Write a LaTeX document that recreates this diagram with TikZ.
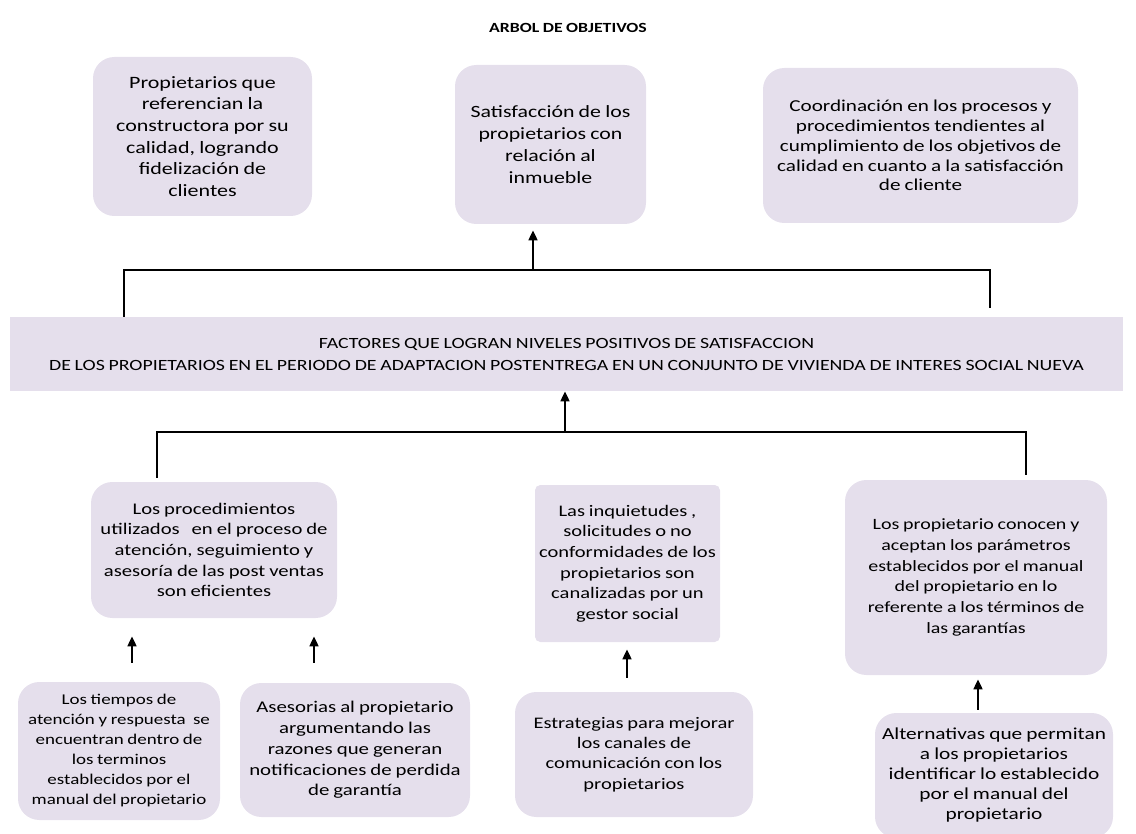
\documentclass[tikz,border=0pt]{standalone}
\usepackage{fontspec}
\setmainfont{Carlito}[FakeStretch=1.27, WordSpace=0.85]
\usetikzlibrary{arrows.meta}
\definecolor{lila}{HTML}{E5DFEC}
\tikzset{
  caja/.style={fill=lila, rounded corners=16pt, align=center, inner sep=0pt},
  linea/.style={line width=1.5pt},
  flecha/.style={line width=1.8pt, -{Triangle[length=7.5pt,width=6.5pt]}},
}
\begin{document}
\begin{tikzpicture}[x=0.75pt, y=-0.75pt]
    \useasboundingbox (0,0) rectangle (1136,834);
    \node[font=\bfseries\fontsize{10.5}{12}\selectfont] (titulo) at (568,28) {ARBOL DE OBJETIVOS};
    % fines
    \node[caja, minimum width=164.25pt, minimum height=119.25pt, font=\fontsize{13}{16.3}\selectfont] (fin1) at (202.5,136.5)
        {Propietarios que\\referencian la\\constructora por su\\calidad, logrando\\fidelización de\\clientes};
    \node[caja, minimum width=143.25pt, minimum height=119.25pt, font=\fontsize{12.9}{16.7}\selectfont] (fin2) at (550.5,144.5)
        {Satisfacción de los\\propietarios con\\relación al\\inmueble};
    \node[caja, minimum width=236.25pt, minimum height=116.25pt, font=\fontsize{12.5}{14.85}\selectfont] (fin3) at (920.5,145.5)
        {Coordinación en los procesos y\\procedimientos tendientes al\\cumplimiento de los objetivos de\\calidad en cuanto a la satisfacción\\de cliente};
    % problema central
    \node[caja, rounded corners=0pt, minimum width=834.75pt, minimum height=55.5pt, font=\fontsize{11.7}{16.5}\selectfont] (problema) at (566.5,354)
        {FACTORES QUE LOGRAN NIVELES POSITIVOS DE SATISFACCION\\DE LOS PROPIETARIOS EN EL PERIODO DE ADAPTACION POSTENTREGA EN UN CONJUNTO DE VIVIENDA DE INTERES SOCIAL NUEVA};
    % causas
    \node[caja, minimum width=184.5pt, minimum height=102pt, font=\fontsize{12.2}{15.5}\selectfont] (causa1) at (214,550)
        {Los procedimientos\\utilizados\ \ \ en el proceso de\\atención, seguimiento y\\asesoría\ de las post ventas\\son\ eficientes};
    \node[caja, rounded corners=4pt, minimum width=138.75pt, minimum height=117.75pt, font=\fontsize{12.1}{15.5}\selectfont] (causa2) at (627.5,563.5)
        {Las inquietudes ,\\solicitudes o no\\conformidades de los\\propietarios son\\canalizadas por un\\gestor social};
    \node[caja, minimum width=196.5pt, minimum height=146.25pt, font=\fontsize{11.8}{15.5}\selectfont] (causa3) at (976,577.5)
        {Los propietario conocen y\\aceptan\ los parámetros\\establecidos por el manual\\del propietario en lo\\referente a los términos de\\las garantías};
    % medios
    \node[caja, minimum width=151.5pt, minimum height=103.5pt, font=\fontsize{11.2}{15}\selectfont] (medio1) at (119,751)
        {Los tiempos de\\atención y respuesta\ \ se\\encuentran dentro de\\los terminos\\establecidos por el\\manual del propietario};
    \node[caja, minimum width=172.5pt, minimum height=100.5pt, font=\fontsize{12.3}{15.6}\selectfont] (medio2) at (355,750)
        {Asesorias al propietario\\argumentando las\\razones que generan\\notificaciones de perdida\\de garantía};
    \node[caja, minimum width=178.5pt, minimum height=93.75pt, font=\fontsize{12.1}{15.2}\selectfont] (medio3) at (634,754.5)
        {Estrategias para mejorar\\los canales de\\comunicación con los\\propietarios};
    \node[caja, minimum width=178.5pt, minimum height=93.75pt, font=\fontsize{12.6}{15}\selectfont] (medio4) at (994,775.5)
        {Alternativas que permitan\\a los propietarios\\identificar lo establecido\\por el manual del\\propietario};
    % conectores
    \coordinate (tl) at (124,270);
    \coordinate (tc) at (533,270);
    \coordinate (tr) at (990,270);
    \coordinate (bl) at (157,432);
    \coordinate (bc) at (565,432);
    \coordinate (br) at (1026,432);
    \coordinate (m1) at (132,0);
    \coordinate (m2) at (314,0);
    \coordinate (m3) at (627,0);
    \coordinate (m4) at (978,0);
    \draw[linea, shorten >=6.75pt] (problema.north -| tl) -- (tl) -- (tr) -- (problema.north -| tr);
    \draw[flecha, shorten >=4.5pt] (tc) -- (fin2.south -| tc);
    \draw[linea, shorten <=3pt, shorten >=3.75pt] (causa1.north -| bl) -- (bl) -- (br) -- (causa3.north -| br);
    \draw[flecha] (bc) -- (problema.south -| bc);
    \draw[flecha, shorten <=14.25pt, shorten >=13.5pt] (medio1.north -| m1) -- (causa1.south -| m1);
    \draw[flecha, shorten <=15pt, shorten >=13.5pt] (medio2.north -| m2) -- (causa1.south -| m2);
    \draw[flecha, shorten <=10.5pt, shorten >=5.25pt] (medio3.north -| m3) -- (causa2.south -| m3);
    \draw[flecha, shorten <=2.25pt, shorten >=3pt] (medio4.north -| m4) -- (causa3.south -| m4);
\end{tikzpicture}
\end{document}
